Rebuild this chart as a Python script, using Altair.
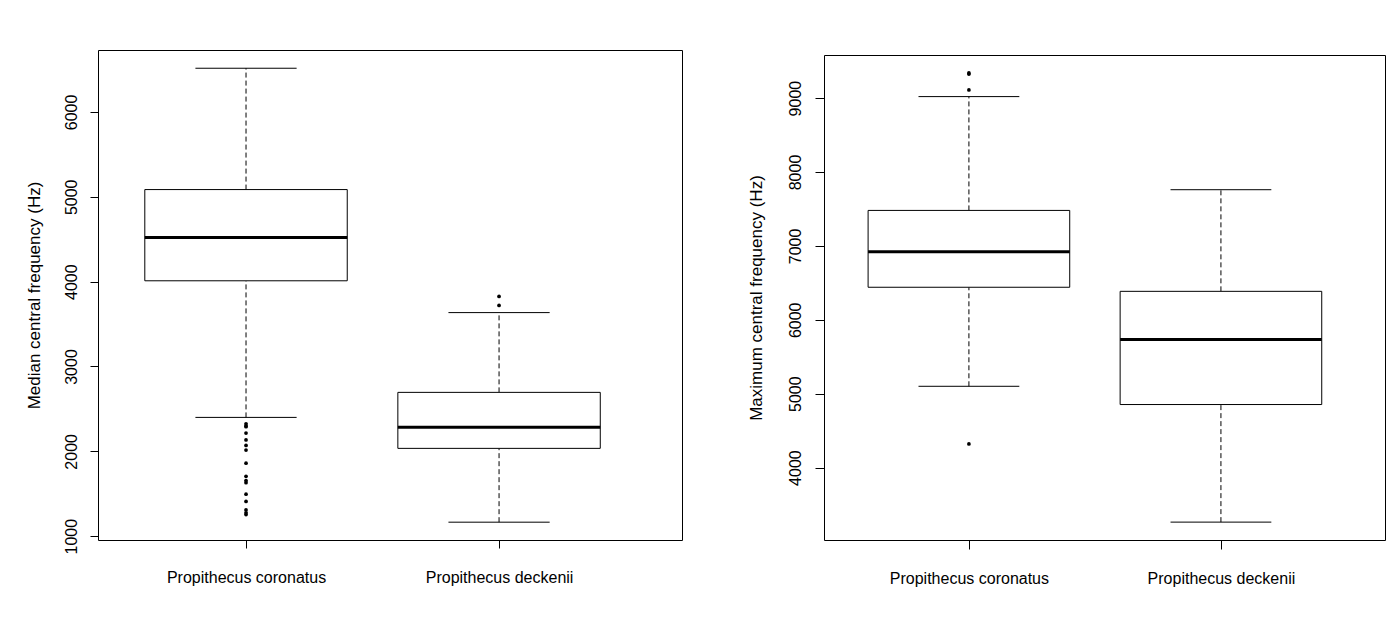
import altair as alt
import pandas as pd

species = ["Propithecus coronatus", "Propithecus deckenii"]
positions = [1, 2]

# Left panel: median central frequency (Hz)
med_lo = [2400, 1165]
med_q1 = [4010, 2035]
med_median = [4520, 2283]
med_q3 = [5085, 2695]
med_hi = [6515, 3635]
med_out_coronatus = [2325, 2300, 2290, 2215, 2135, 2070, 2015, 1860, 1705,
                     1655, 1630, 1495, 1410, 1310, 1275, 1255]
med_out_deckenii = [3825, 3720]
med_ticks = [1000, 2000, 3000, 4000, 5000, 6000]

# Right panel: maximum central frequency (Hz)
max_lo = [5100, 3262]
max_q1 = [6440, 4853]
max_median = [6920, 5732]
max_q3 = [7480, 6385]
max_hi = [9020, 7760]
max_out_coronatus = [9340, 9325, 9110, 4320]
max_out_deckenii = []
max_ticks = [4000, 5000, 6000, 7000, 8000, 9000]

FONT = "Liberation Sans"
LABEL_SIZE = 16
TITLE_SIZE = 17

label_expr = " : ".join(
    [f"datum.value == {p} ? '{s}'" for p, s in zip(positions, species)] + ["''"]
)


def panel(lo, q1, med, q3, hi, out_c, out_d, ytitle, ydom, yticks, xdom,
          width, height, tick_len, lab_pad, title_pad):
    stats = pd.DataFrame({"species": species, "pos": positions, "lo": lo,
                          "q1": q1, "med": med, "q3": q3, "hi": hi})
    outs = pd.DataFrame({
        "species": [species[0]] * len(out_c) + [species[1]] * len(out_d),
        "pos": [positions[0]] * len(out_c) + [positions[1]] * len(out_d),
        "value": list(out_c) + list(out_d),
    })
    xscale = alt.Scale(domain=xdom, nice=False, zero=False)
    yscale = alt.Scale(domain=ydom, nice=False, zero=False)
    xaxis = alt.Axis(values=positions, labelExpr=label_expr, title=None,
                     grid=False, domain=False, tickSize=tick_len,
                     labelPadding=21, labelFontSize=LABEL_SIZE,
                     labelColor="black", tickColor="black", labelFont=FONT,
                     labelAngle=0)
    yaxis = alt.Axis(values=yticks, title=ytitle, grid=False, domain=False,
                     tickSize=tick_len, labelAngle=-90, labelAlign="center",
                     labelBaseline="bottom", labelPadding=lab_pad,
                     labelFontSize=LABEL_SIZE, labelColor="black",
                     tickColor="black", labelFont=FONT, titleFont=FONT,
                     titleFontSize=TITLE_SIZE, titleFontWeight="normal",
                     titleColor="black", titlePadding=title_pad, format="d")

    base = alt.Chart(stats).transform_calculate(
        x0="datum.pos - 0.4", x1="datum.pos + 0.4",
        c0="datum.pos - 0.2", c1="datum.pos + 0.2")

    box = base.mark_rect(fill="white", stroke="black", strokeWidth=1).encode(
        x=alt.X("x0:Q", scale=xscale, axis=xaxis), x2="x1:Q",
        y=alt.Y("q1:Q", scale=yscale, axis=yaxis), y2="q3:Q")
    whisk_hi = base.mark_rule(color="black", strokeDash=[5, 3], strokeWidth=1).encode(
        x="pos:Q", y="q3:Q", y2="hi:Q")
    whisk_lo = base.mark_rule(color="black", strokeDash=[5, 3], strokeWidth=1).encode(
        x="pos:Q", y="lo:Q", y2="q1:Q")
    cap_hi = base.mark_rule(color="black", strokeWidth=1).encode(
        x="c0:Q", x2="c1:Q", y="hi:Q")
    cap_lo = base.mark_rule(color="black", strokeWidth=1).encode(
        x="c0:Q", x2="c1:Q", y="lo:Q")
    median = base.mark_rule(color="black", strokeWidth=3).encode(
        x="x0:Q", x2="x1:Q", y="med:Q")
    pts = alt.Chart(outs).mark_circle(color="black", opacity=1, size=14).encode(
        x="pos:Q", y="value:Q")

    return alt.layer(whisk_hi, whisk_lo, box, cap_hi, cap_lo, median, pts).properties(
        width=width, height=height)


left = panel(med_lo, med_q1, med_median, med_q3, med_hi, med_out_coronatus,
             med_out_deckenii, "Median central frequency (Hz)", [955, 6730],
             med_ticks, [0.415, 2.723], 584, 490, 8, 11, 20)

right_panel = panel(max_lo, max_q1, max_median, max_q3, max_hi,
                    max_out_coronatus, max_out_deckenii,
                    "Maximum central frequency (Hz)", [3020, 9583],
                    max_ticks, [0.425, 2.651], 561, 485, 9, 12, 22)

# small invisible spacer so the right frame starts a few pixels lower
spacer = alt.Chart(pd.DataFrame({"a": [0]})).mark_point(opacity=0, size=1).encode(
    x=alt.value(0), y=alt.value(0)
).properties(width=561, height=1, view=alt.ViewBackground(stroke="transparent"))

right = alt.vconcat(spacer, right_panel, spacing=2)

chart = alt.hconcat(left, right, spacing=63).properties(
    padding={"left": 16, "top": 41, "right": 0, "bottom": 0}
).configure(font=FONT, background="white").configure_view(
    stroke="black", strokeWidth=1)

chart.save("out.html", embed_options={"renderer": "svg", "actions": False})
